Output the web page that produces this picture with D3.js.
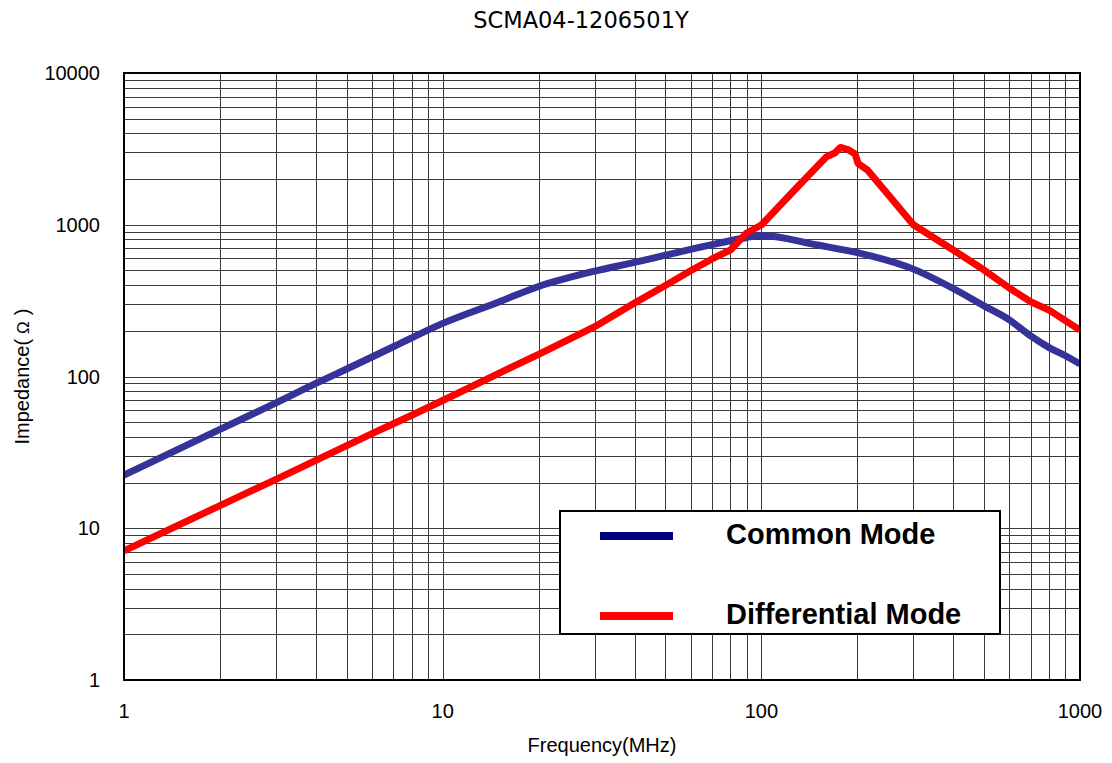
<!DOCTYPE html>
<html>
<head>
<meta charset="utf-8">
<script src="https://cdn.jsdelivr.net/npm/d3@7/dist/d3.min.js"></script>
<style>
  html, body { margin: 0; padding: 0; background: #fff; }
  svg { display: block; }
</style>
</head>
<body>
<svg id="chart" width="1112" height="763"></svg>
<script>
// ---- data ----
const title = "SCMA04-1206501Y";
const xLabel = "Frequency(MHz)";
const yLabelParts = ["Impedance(", "Ω", ")"];
const seriesNames = ["Common Mode", "Differential Mode"];

const xTickValues = [1, 10, 100, 1000];
const xTickLabels = ["1", "10", "100", "1000"];
const yTickValues = [1, 10, 100, 1000, 10000];
const yTickLabels = ["1", "10", "100", "1000", "10000"];

const freqCM = [1, 2, 3, 4, 5, 7, 10, 15, 20, 30, 40, 50, 60, 70, 80, 90, 100, 150, 200, 300, 400, 500, 600, 700, 800, 900, 1000];
const commonMode = [22.4, 44.8, 67, 90, 112, 157, 224, 310, 392, 495, 565, 630, 688, 740, 785, 825, 850, 735, 655, 510, 380, 292, 236, 185, 155, 137, 121];

const freqDM = [1, 2, 3, 4, 5, 6, 7, 8, 10, 15, 20, 30, 40, 50, 60, 70, 80, 90, 100, 130, 160, 170, 177, 187, 197, 201, 215, 300, 400, 500, 600, 700, 800, 1000];
const diffMode = [7.1, 14.1, 21, 28, 35, 42, 48.8, 55.5, 69.5, 105, 140, 213, 305, 398, 497, 595, 682, 883, 996, 1780, 2800, 2970, 3230, 3130, 2930, 2540, 2300, 1000, 682, 503, 383, 311, 274, 202];

// ---- layout ----
const svg = d3.select("#chart");
const L = 124, R = 1080, T = 73, B = 680;

const x = d3.scaleLog().domain([1, 1000]).range([L, R]);
const y = d3.scaleLog().domain([1, 10000]).range([B, T]);

// grid
const minorX = [];
for (let d = 1; d < 1000; d *= 10) for (let k = 1; k <= 10; k++) minorX.push(d * k);
const minorY = [];
for (let d = 1; d < 10000; d *= 10) for (let k = 1; k <= 10; k++) minorY.push(d * k);

const grid = svg.append("g");
grid.selectAll("line.vx").data([...new Set(minorX)]).enter().append("line")
  .attr("x1", d => Math.round(x(d)) + 0.5).attr("x2", d => Math.round(x(d)) + 0.5)
  .attr("y1", T).attr("y2", B)
  .attr("stroke", "#3a3a3a").attr("stroke-width", 1);
grid.selectAll("line.hy").data([...new Set(minorY)]).enter().append("line")
  .attr("y1", d => Math.round(y(d)) + 0.5).attr("y2", d => Math.round(y(d)) + 0.5)
  .attr("x1", L).attr("x2", R)
  .attr("stroke", "#3a3a3a").attr("stroke-width", 1);

// clip
svg.append("clipPath").attr("id", "clip").append("rect")
  .attr("x", L).attr("y", T).attr("width", R - L).attr("height", B - T);

const plot = svg.append("g").attr("clip-path", "url(#clip)");
plot.append("path")
  .datum(freqCM.map((f, i) => [f, commonMode[i]]))
  .attr("d", d3.line().x(d => x(d[0])).y(d => y(d[1])).curve(d3.curveMonotoneX))
  .attr("fill", "none").attr("stroke", "#333399").attr("stroke-width", 7)
  .attr("stroke-linejoin", "round");
plot.append("path")
  .datum(freqDM.map((f, i) => [f, diffMode[i]]))
  .attr("d", d3.line().x(d => x(d[0])).y(d => y(d[1])).curve(d3.curveLinear))
  .attr("fill", "none").attr("stroke", "#ff0000").attr("stroke-width", 7)
  .attr("stroke-linejoin", "round");

// frame
svg.append("rect").attr("x", L).attr("y", T).attr("width", R - L).attr("height", B - T)
  .attr("fill", "none").attr("stroke", "#000").attr("stroke-width", 2);

// axis labels
const font = "'Liberation Sans', Arial, sans-serif";
svg.append("g").selectAll("text").data(xTickValues).enter().append("text")
  .attr("x", d => x(d)).attr("y", 718)
  .attr("text-anchor", "middle")
  .attr("font-family", font).attr("font-size", 20)
  .text((d, i) => xTickLabels[i]);
svg.append("g").selectAll("text").data(yTickValues).enter().append("text")
  .attr("x", 100).attr("y", d => y(d) + 7)
  .attr("text-anchor", "end")
  .attr("font-family", font).attr("font-size", 20)
  .text((d, i) => yTickLabels[i]);

svg.append("text").attr("x", (L + R) / 2).attr("y", 752)
  .attr("text-anchor", "middle").attr("font-family", font).attr("font-size", 20)
  .text(xLabel);
const yl = svg.append("text").attr("transform", `translate(29,${(T + B) / 2}) rotate(-90)`)
  .attr("text-anchor", "middle").attr("font-family", font).attr("font-size", 20);
yl.append("tspan").text(yLabelParts[0]);
yl.append("tspan").attr("dx", 5).attr("font-size", 17).text(yLabelParts[1]);
yl.append("tspan").attr("dx", 6).text(yLabelParts[2]);

svg.append("text").attr("x", 581).attr("y", 28)
  .attr("text-anchor", "middle").attr("font-family", "'DejaVu Sans', sans-serif").attr("font-size", 22.5)
  .text(title);

// legend
const lg = svg.append("g");
lg.append("rect").attr("x", 560).attr("y", 511).attr("width", 440).attr("height", 123)
  .attr("fill", "#fff").attr("stroke", "#000").attr("stroke-width", 2);
const legendColors = ["#000080", "#ff0000"];
const legendY = [536, 616];
seriesNames.forEach((n, i) => {
  lg.append("line").attr("x1", 600).attr("x2", 673).attr("y1", legendY[i]).attr("y2", legendY[i])
    .attr("stroke", legendColors[i]).attr("stroke-width", 8);
  lg.append("text").attr("x", 726).attr("y", legendY[i] + 7.5)
    .attr("font-family", font).attr("font-weight", "bold").attr("font-size", 29)
    .text(n);
});
</script>
</body>
</html>
